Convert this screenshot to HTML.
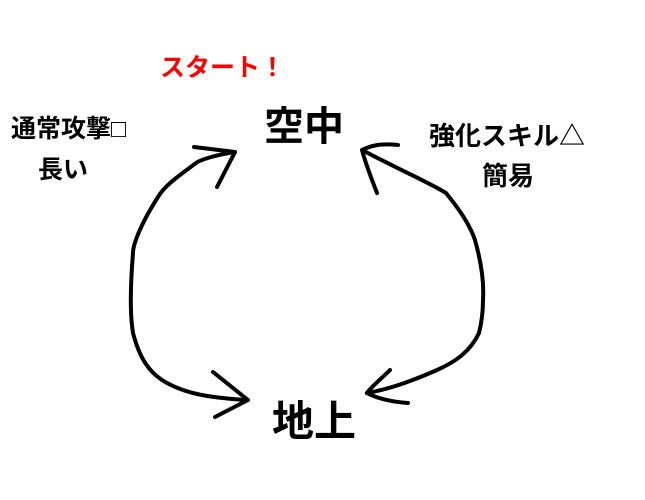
<!DOCTYPE html>
<html><head><meta charset="utf-8"><style>
body{margin:0;width:645px;height:500px;background:#fff;overflow:hidden;position:relative;font-family:"Liberation Sans","Noto Sans CJK JP",sans-serif;font-weight:bold}
.t{position:absolute;white-space:nowrap;line-height:1}
</style></head><body>
<svg width="645" height="500" style="position:absolute;left:0;top:0" fill="none" stroke="#000" stroke-width="4" stroke-linecap="round" stroke-linejoin="round">
<path d="M235,152 C215,155 200,160 196,163 C180,175 165,185 158,197 C140,225 133,245 133,253 C130,290 130,315 133,333 C140,360 150,372 162,380 C185,395 215,398 246,400"/>
<path d="M194,147 L235,152 L217,187"/>
<path d="M213,372 L248,400 L215,417"/>
<path d="M362,150 C400,170 430,183 446,193 C460,210 470,225 475,240 C482,265 484,285 483,300 C483,315 481,325 479,333 C470,352 455,362 437,370 C410,382 385,390 367,393"/>
<path d="M398,145 C380,143 370,146 362,150 C366,165 372,180 377,193"/>
<path d="M390,370 C380,380 370,388 367,393 C380,400 395,402 408,403"/>
</svg>
<div class="t" style="left:160px;top:56px;font-size:25px;color:#f00">スタート！</div>
<div class="t" style="left:264px;top:107px;font-size:40px">空中</div>
<div class="t" style="left:272px;top:401px;font-size:42px">地上</div>
<div class="t" style="left:11px;top:117px;font-size:25px">通常攻撃□</div>
<div class="t" style="left:38px;top:158px;font-size:25px">長い</div>
<div class="t" style="left:429px;top:123px;font-size:26px">強化スキル△</div>
<div class="t" style="left:482px;top:163px;font-size:26px">簡易</div>
</body></html>
